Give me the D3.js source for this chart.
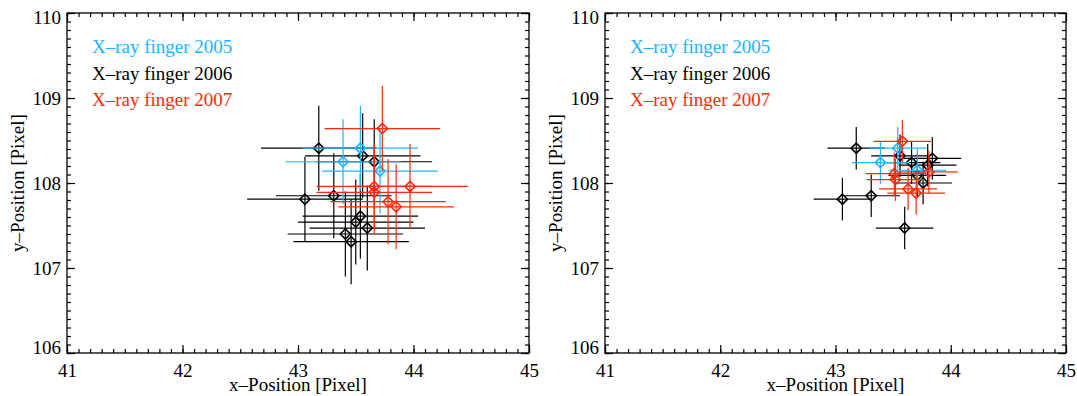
<!DOCTYPE html>
<html>
<head>
<meta charset="utf-8">
<script src="https://cdn.jsdelivr.net/npm/d3@7"></script>
</head>
<body style="margin:0">
<svg id="chart" width="1077" height="396" style="display:block"></svg>
<script>
// tick labels
var xTicks = [41, 42, 43, 44, 45];
var yTicks = [106, 107, 108, 109, 110];
var seriesNames = ["X\u2013ray finger 2005", "X\u2013ray finger 2006", "X\u2013ray finger 2007"];

// left panel values (pixel positions), error +-0.5
var leftX2005 = [43.54, 43.39, 43.71];
var leftY2005 = [108.41, 108.25, 108.14];
var leftX2006 = [43.18, 43.56, 43.66, 43.06, 43.31, 43.54, 43.50, 43.60, 43.41, 43.46];
var leftY2006 = [108.41, 108.32, 108.25, 107.81, 107.85, 107.61, 107.54, 107.47, 107.40, 107.31];
var leftX2007 = [43.73, 43.66, 43.66, 43.97, 43.78, 43.85];
var leftY2007 = [108.64, 107.96, 107.89, 107.96, 107.78, 107.72];
var leftErr = 0.5;

// right panel values, error +-0.25
var rightX2005 = [43.54, 43.39, 43.71];
var rightY2005 = [108.41, 108.24, 108.15];
var rightX2006 = [43.18, 43.56, 43.66, 43.80, 43.84, 43.71, 43.76, 43.06, 43.31, 43.60];
var rightY2006 = [108.41, 108.32, 108.24, 108.21, 108.29, 108.09, 108.00, 107.81, 107.85, 107.47];
var rightX2007 = [43.58, 43.51, 43.52, 43.81, 43.63, 43.70];
var rightY2007 = [108.49, 108.11, 108.04, 108.13, 107.93, 107.88];
var rightErr = 0.25;

var colors = ["#1eb4ff", "#000000", "#ff2a0a"];
var serif = "'Liberation Serif'";

var svg = d3.select("#chart");
var top0 = 13, bottom0 = 353;

var panels = [
  { left: 67, right: 529, err: leftErr,
    xs: [leftX2005, leftX2006, leftX2007], ys: [leftY2005, leftY2006, leftY2007] },
  { left: 605, right: 1066, err: rightErr,
    xs: [rightX2005, rightX2006, rightX2007], ys: [rightY2005, rightY2006, rightY2007] }
];

// draw order: 2006 first, then 2005, then 2007
var order = [1, 0, 2];

panels.forEach(function(p) {
  var x = d3.scaleLinear().domain([41, 45]).range([p.left, p.right]);
  var y = d3.scaleLinear().domain([106, 110]).range([bottom0, top0]);
  var g = svg.append("g");

  // minor ticks every 0.1
  g.append("g").attr("transform", "translate(0," + bottom0 + ")")
    .call(d3.axisBottom(x).ticks(40).tickSize(-4).tickFormat(""));
  g.append("g").attr("transform", "translate(0," + top0 + ")")
    .call(d3.axisTop(x).ticks(40).tickSize(-4).tickFormat(""));
  g.append("g").attr("transform", "translate(" + p.left + ",0)")
    .call(d3.axisLeft(y).ticks(40).tickSize(-4).tickFormat(""));
  g.append("g").attr("transform", "translate(" + p.right + ",0)")
    .call(d3.axisRight(y).ticks(40).tickSize(-4).tickFormat(""));

  // major ticks
  g.append("g").attr("transform", "translate(0," + bottom0 + ")")
    .call(d3.axisBottom(x).tickValues(xTicks).tickSize(-8).tickPadding(11).tickFormat(d3.format("d")));
  g.append("g").attr("transform", "translate(0," + top0 + ")")
    .call(d3.axisTop(x).tickValues(xTicks).tickSize(-8).tickFormat(""));
  var yl = g.append("g").attr("transform", "translate(" + p.left + ",0)")
    .call(d3.axisLeft(y).tickValues(yTicks).tickSize(-8).tickPadding(6).tickFormat(d3.format("d")));
  g.append("g").attr("transform", "translate(" + p.right + ",0)")
    .call(d3.axisRight(y).tickValues(yTicks).tickSize(-8).tickFormat(""));

  g.selectAll(".domain").remove();
  g.selectAll(".tick line").attr("stroke", "#000").attr("stroke-width", 1.2);
  g.selectAll(".tick text").attr("fill", "#000")
    .attr("font-size", 19).attr("font-family", serif);
  yl.selectAll(".tick text").attr("dy", function(d) {
    if (d === 110) return "0.57em";
    if (d === 106) return "0em";
    return "0.32em";
  });

  // box
  g.append("rect")
    .attr("x", x(41)).attr("y", y(110))
    .attr("width", x(45) - x(41)).attr("height", y(106) - y(110))
    .attr("fill", "none").attr("stroke", "#000").attr("stroke-width", 1.3);

  // axis titles
  g.append("text")
    .attr("x", (x(41) + x(45)) / 2).attr("y", 391)
    .attr("text-anchor", "middle").attr("font-size", 19).attr("font-family", serif)
    .text("x\u2013Position [Pixel]");
  g.append("text")
    .attr("transform", "translate(" + (p.left - 43) + "," + ((y(106) + y(110)) / 2) + ") rotate(-90)")
    .attr("text-anchor", "middle").attr("font-size", 19).attr("font-family", serif)
    .text("y\u2013Position [Pixel]");

  // legend
  seriesNames.forEach(function(name, i) {
    g.append("text")
      .attr("x", p.left + 25).attr("y", 53 + i * 26.5)
      .attr("fill", colors[i]).attr("font-size", 19).attr("font-family", serif)
      .text(name);
  });

  // error bars and diamonds
  var diamond = d3.symbol().type(d3.symbolSquare).size(52);
  order.forEach(function(s) {
    var pts = p.xs[s].map(function(v, i) { return { x: v, y: p.ys[s][i] }; });
    var sg = g.append("g").attr("stroke", colors[s]).attr("fill", "none");
    sg.selectAll("line.h").data(pts).enter().append("line")
      .attr("x1", function(d) { return x(d.x - p.err); })
      .attr("x2", function(d) { return x(d.x + p.err); })
      .attr("y1", function(d) { return y(d.y); })
      .attr("y2", function(d) { return y(d.y); })
      .attr("stroke-width", 1.2);
    sg.selectAll("line.v").data(pts).enter().append("line")
      .attr("x1", function(d) { return x(d.x); })
      .attr("x2", function(d) { return x(d.x); })
      .attr("y1", function(d) { return y(d.y - p.err); })
      .attr("y2", function(d) { return y(d.y + p.err); })
      .attr("stroke-width", 1.2);
    sg.selectAll("path").data(pts).enter().append("path")
      .attr("d", diamond)
      .attr("transform", function(d) { return "translate(" + x(d.x) + "," + y(d.y) + ") rotate(45)"; })
      .attr("stroke-width", 1.6);
  });
});
</script>
</body>
</html>
